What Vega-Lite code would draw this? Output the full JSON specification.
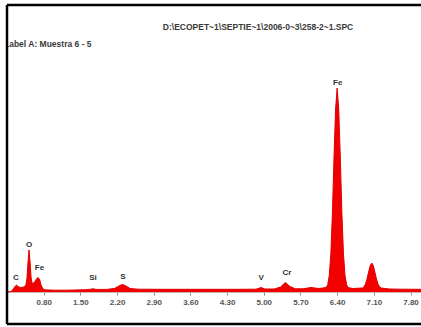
{
  "$schema": "https://vega.github.io/schema/vega-lite/v6.json",
  "width": 414,
  "height": 319,
  "autosize": {"type": "none"},
  "padding": {"left": 7, "top": 5, "right": 0, "bottom": 3},
  "background": "white",
  "config": {"view": {"stroke": null}, "font": "Liberation Sans"},
  "datasets": {
    "spectrum": [
      {"energy": 0.10, "counts": 0},
      {"energy": 0.18, "counts": 5},
      {"energy": 0.22, "counts": 30},
      {"energy": 0.26, "counts": 60},
      {"energy": 0.28, "counts": 70},
      {"energy": 0.31, "counts": 55},
      {"energy": 0.36, "counts": 45},
      {"energy": 0.42, "counts": 50},
      {"energy": 0.46, "counts": 70},
      {"energy": 0.48, "counts": 130},
      {"energy": 0.50, "counts": 290},
      {"energy": 0.52, "counts": 420},
      {"energy": 0.54, "counts": 300},
      {"energy": 0.56, "counts": 140},
      {"energy": 0.58, "counts": 85},
      {"energy": 0.60, "counts": 90},
      {"energy": 0.63, "counts": 100},
      {"energy": 0.66, "counts": 130},
      {"energy": 0.69, "counts": 145},
      {"energy": 0.72, "counts": 130},
      {"energy": 0.75, "counts": 70},
      {"energy": 0.78, "counts": 35},
      {"energy": 0.82, "counts": 22},
      {"energy": 0.90, "counts": 20},
      {"energy": 1.00, "counts": 18},
      {"energy": 1.20, "counts": 18},
      {"energy": 1.40, "counts": 20},
      {"energy": 1.60, "counts": 23},
      {"energy": 1.70, "counts": 28},
      {"energy": 1.74, "counts": 32},
      {"energy": 1.80, "counts": 26},
      {"energy": 2.00, "counts": 26},
      {"energy": 2.15, "counts": 35},
      {"energy": 2.25, "counts": 65},
      {"energy": 2.31, "counts": 75},
      {"energy": 2.37, "counts": 60},
      {"energy": 2.45, "counts": 35},
      {"energy": 2.60, "counts": 28},
      {"energy": 3.00, "counts": 27},
      {"energy": 3.50, "counts": 27},
      {"energy": 4.00, "counts": 27},
      {"energy": 4.50, "counts": 27},
      {"energy": 4.85, "counts": 28},
      {"energy": 4.95, "counts": 45},
      {"energy": 5.02, "counts": 30},
      {"energy": 5.20, "counts": 30},
      {"energy": 5.32, "counts": 50},
      {"energy": 5.41, "counts": 95},
      {"energy": 5.50, "counts": 55},
      {"energy": 5.60, "counts": 32},
      {"energy": 5.75, "counts": 32},
      {"energy": 5.90, "counts": 45},
      {"energy": 6.05, "counts": 35},
      {"energy": 6.19, "counts": 44},
      {"energy": 6.22, "counts": 74},
      {"energy": 6.25, "counts": 166},
      {"energy": 6.28, "counts": 387},
      {"energy": 6.31, "counts": 794},
      {"energy": 6.34, "counts": 1350},
      {"energy": 6.37, "counts": 1830},
      {"energy": 6.40, "counts": 2040},
      {"energy": 6.43, "counts": 1830},
      {"energy": 6.46, "counts": 1350},
      {"energy": 6.49, "counts": 794},
      {"energy": 6.52, "counts": 387},
      {"energy": 6.55, "counts": 166},
      {"energy": 6.58, "counts": 74},
      {"energy": 6.61, "counts": 44},
      {"energy": 6.70, "counts": 35},
      {"energy": 6.88, "counts": 40},
      {"energy": 6.91, "counts": 51},
      {"energy": 6.94, "counts": 79},
      {"energy": 6.97, "counts": 130},
      {"energy": 7.00, "counts": 199},
      {"energy": 7.03, "counts": 263},
      {"energy": 7.06, "counts": 290},
      {"energy": 7.09, "counts": 263},
      {"energy": 7.12, "counts": 199},
      {"energy": 7.15, "counts": 130},
      {"energy": 7.18, "counts": 79},
      {"energy": 7.21, "counts": 51},
      {"energy": 7.24, "counts": 40},
      {"energy": 7.40, "counts": 30},
      {"energy": 7.60, "counts": 28},
      {"energy": 8.00, "counts": 27}
    ],
    "peaks": [
      {"energy": 0.27, "counts": 140, "element": "C"},
      {"energy": 0.52, "counts": 470, "element": "O"},
      {"energy": 0.72, "counts": 240, "element": "Fe"},
      {"energy": 1.74, "counts": 140, "element": "Si"},
      {"energy": 2.31, "counts": 150, "element": "S"},
      {"energy": 4.95, "counts": 140, "element": "V"},
      {"energy": 5.44, "counts": 190, "element": "Cr"},
      {"energy": 6.41, "counts": 2090, "element": "Fe"}
    ],
    "header": [
      {"energy": 4.89, "counts": 2650, "text": "D:\\ECOPET~1\\SEPTIE~1\\2006-0~3\\258-2~1.SPC"}
    ],
    "label": [
      {"energy": 0.043, "counts": 2480, "text": "Label A: Muestra 6 - 5"}
    ],
    "hframe": [
      {"edge": "top", "counts": 2870},
      {"edge": "bottom", "counts": -320}
    ],
    "vframe": [
      {"edge": "left", "energy": 0.1}
    ]
  },
  "layer": [
    {
      "data": {"name": "spectrum"},
      "mark": {"type": "area", "color": "#f20000", "opacity": 1, "interpolate": "linear", "line": {"color": "#e00000", "strokeWidth": 1}},
      "encoding": {
        "x": {
          "field": "energy", "type": "quantitative",
          "scale": {"domain": [0.1, 8.0], "nice": false, "zero": false},
          "axis": {
            "title": null,
            "values": [0.8, 1.5, 2.2, 2.9, 3.6, 4.3, 5.0, 5.7, 6.4, 7.1, 7.8],
            "format": ".2f",
            "offset": -32,
            "grid": false,
            "domainColor": "#c8b4b4",
            "domainWidth": 1,
            "tickColor": "#888888",
            "tickSize": 3,
            "labelPadding": 3,
            "labelFont": "Liberation Sans",
            "labelFontWeight": "bold",
            "labelFontSize": 8,
            "labelColor": "#555555",
            "labelFlush": false
          }
        },
        "y": {
          "field": "counts", "type": "quantitative",
          "scale": {"domain": [-320, 2870], "nice": false, "zero": false},
          "axis": null
        },
        "y2": {"datum": 0}
      }
    },
    {
      "data": {"name": "peaks"},
      "mark": {"type": "text", "font": "Liberation Sans", "fontWeight": "bold", "fontSize": 8, "color": "#333333", "baseline": "middle", "align": "center"},
      "encoding": {
        "x": {"field": "energy", "type": "quantitative"},
        "y": {"field": "counts", "type": "quantitative"},
        "text": {"field": "element"}
      }
    },
    {
      "data": {"name": "header"},
      "mark": {"type": "text", "font": "Liberation Sans", "fontWeight": "bold", "fontSize": 8.5, "color": "#3a3a3a", "baseline": "middle", "align": "center"},
      "encoding": {
        "x": {"field": "energy", "type": "quantitative"},
        "y": {"field": "counts", "type": "quantitative"},
        "text": {"field": "text"}
      }
    },
    {
      "data": {"name": "label"},
      "mark": {"type": "text", "font": "Liberation Sans", "fontWeight": "bold", "fontSize": 8.5, "color": "#3a3a3a", "baseline": "middle", "align": "left", "clip": true},
      "encoding": {
        "x": {"field": "energy", "type": "quantitative"},
        "y": {"field": "counts", "type": "quantitative"},
        "text": {"field": "text"}
      }
    },
    {
      "data": {"name": "hframe"},
      "mark": {"type": "rule", "color": "black", "strokeWidth": 2.5},
      "encoding": {"y": {"field": "counts", "type": "quantitative"}}
    },
    {
      "data": {"name": "vframe"},
      "mark": {"type": "rule", "color": "black", "strokeWidth": 2.5},
      "encoding": {"x": {"field": "energy", "type": "quantitative"}}
    }
  ]
}
